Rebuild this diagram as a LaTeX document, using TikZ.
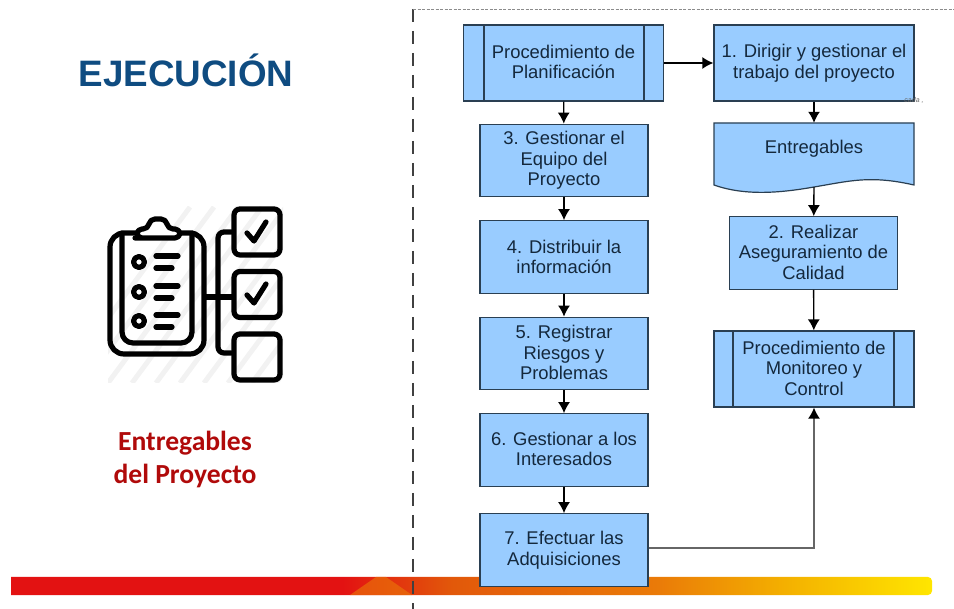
\documentclass[tikz,border=0pt]{standalone}
\usepackage{fontspec}
\setmainfont{Liberation Sans}
\newfontfamily\carlitofont{Carlito}
\usepackage{tikz}
\usetikzlibrary{arrows.meta, positioning}
\definecolor{boxblue}{HTML}{99CCFF}
\definecolor{boxline}{HTML}{2A3F52}
\definecolor{boxtext}{HTML}{14283C}
\definecolor{titleblue}{HTML}{0F4C81}
\definecolor{titlered}{HTML}{B00A0A}
\definecolor{barred}{HTML}{E31212}
\definecolor{barburnt}{HTML}{E2590A}
\definecolor{barorange}{HTML}{EA7A08}
\definecolor{baramber}{HTML}{F4B000}
\definecolor{baryellow}{HTML}{FFE600}
\pgfdeclarehorizontalshading{barfade}{100bp}{
    color(0bp)=(barred);
    color(43bp)=(barred);
    color(49bp)=(barburnt);
    color(60bp)=(barorange);
    color(67bp)=(baramber);
    color(75bp)=(baryellow);
    color(100bp)=(baryellow)}
\newcommand{\up}[1]{\raisebox{2pt}{#1}}

\begin{document}
\begin{tikzpicture}[
    x=1pt, y=-1pt,
    every node/.style={text=boxtext, font=\fontsize{18.4}{20.5}\selectfont},
    process/.style={draw=boxline, fill=boxblue, line width=1.2pt, align=center, inner sep=0pt},
    wideproc/.style={process, minimum width=200pt, minimum height=76pt},
    stepbox/.style={process, minimum width=168pt, minimum height=72.5pt},
    icon/.style={draw=black, line width=5.2pt, line cap=round, line join=round},
    chk/.style={icon, rounded corners=6pt, minimum width=46pt, minimum height=46pt, inner sep=0pt},
    flow/.style={draw=black, line width=1.4pt, -{Latex[length=11pt, width=12pt, color=black]}},
]
\useasboundingbox (0,0) rectangle (954,609);

% Bottom bar
\shade[shading=barfade, rounded corners=4pt] (11,577) [sharp corners] -- (11,595) [rounded corners=4pt] -- (932,595) -- (932,577) [sharp corners] -- cycle;
\fill[barorange, opacity=.6] (350,595) -- (376,577) -- (386,577) -- (412,595) -- cycle;

% Separators
\draw[black!75, line width=1.8pt, dash pattern=on 13pt off 9pt] (413,9) -- (413,609);
\draw[black!45, line width=.7pt, dash pattern=on 3pt off 1.5pt] (413,9) -- (954,9);

% Left side
\node[font=\fontsize{36.8}{40}\bfseries\selectfont, text=titleblue] (title) at (186,70) {EJECUCIÓN};
\node[font=\fontsize{27.6}{33.5}\carlitofont\bfseries\selectfont, text=titlered, align=center] (caption) at (185,459.5) {Entregables\\del Proyecto};

% Icon
\begin{scope}
\clip (108,207) rectangle (283,383);
\foreach \a in {0,...,12}
    \draw[black!5, line width=5pt] ({60+\a*24},383) -- ({60+\a*24+130},207);
\end{scope}
\draw[icon, rounded corners=11pt] (122,233) -- (122,343) -- (192,343) -- (192,233);
\draw[icon, rounded corners=14pt] (137,233) -- (110,233) -- (110,354) -- (204,354) -- (204,233) -- (178,233);
\draw[icon, fill=white, rounded corners=5pt] (140,238) -- (180,238) -- (180,229) -- (168,229) -- (166,219) -- (150,219) -- (148,229) -- (137,229) -- (137,238) -- cycle;
\foreach \y in {256,286,315} {
    \draw[icon] (139,{\y+6}) circle (5.5);
    \draw[icon] (156,\y) -- (178,\y);
    \draw[icon] (156,{\y+12}) -- (172,{\y+12});
}
\node[chk] (chkA) at (257,232) {};
\node[chk] (chkB) at (257,294.5) {};
\node[chk] (chkC) at (257,357) {};
\coordinate (clip) at (206,297);
\draw[icon, rounded corners=6pt] (chkA.west) -- (218,232) -- (218,353) -- (chkC.west |- 0,353);
\draw[icon] (clip) -- (chkB.west |- clip);
\draw[icon] (247,233) -- (254,241) -- (266,222);
\draw[icon] (247,295) -- (254,303) -- (266,284);

% Nodes
\node[wideproc] (plan) at (563.5,63) {\up{Procedimiento de}\\\up{Planificación}};
\draw[boxline, line width=1.2pt] (484,25) -- (484,101) (644,25) -- (644,101);
\node[wideproc] (direct) at (814,63) {\up{1. Dirigir y gestionar el}\\\up{trabajo del proyecto}};
\node[font=\fontsize{7}{7}\itshape\selectfont, text=black!60] (cada) at (914,100) {cada ,};
\fill[boxblue, draw=boxline, line width=1.2pt] (714,123) -- (914,123) -- (914,185)
    .. controls (870,175) and (850,181) .. (814,187)
    .. controls (780,193) and (745,196) .. (714,185) -- cycle;
\node[minimum width=200pt, minimum height=64pt, inner sep=0pt] (deliv) at (814,155) {};
\node (delivtext) at (814,149) {Entregables};
\node[stepbox] (team) at (564,160.5) {3. Gestionar el\\Equipo del\\Proyecto};
\node[stepbox] (info) at (564,257) {4. Distribuir la\\información};
\node[stepbox] (risk) at (564,353.5) {\up{5. Registrar}\\\up{Riesgos y}\\\up{Problemas}};
\node[stepbox] (stake) at (564,450) {\up{6. Gestionar a los}\\\up{Interesados}};
\node[stepbox] (buy) at (564,550) {7. Efectuar las\\Adquisiciones};
\node[stepbox] (quality) at (813.5,253) {\up{2. Realizar}\\\up{Aseguramiento de}\\\up{Calidad}};
\node[wideproc] (monitor) at (814,369) {\up{Procedimiento de}\\\up{Monitoreo y}\\\up{Control}};
\draw[boxline, line width=1.2pt] (733,331) -- (733,407) (894,331) -- (894,407);

% Arrows
\draw[flow] (plan) -- (direct);
\draw[flow] (plan) -- (team);
\draw[flow] (team) -- (info);
\draw[flow] (info) -- (risk);
\draw[flow] (risk) -- (stake);
\draw[flow] (stake) -- (buy);
\draw[flow] (direct) -- (deliv);
\draw[flow] (deliv.south) -- (quality);
\draw[flow] (quality) -- (monitor);
\draw[flow, draw=black!60] (buy.east |- 0,548) -| (monitor.south);

\end{tikzpicture}
\end{document}
